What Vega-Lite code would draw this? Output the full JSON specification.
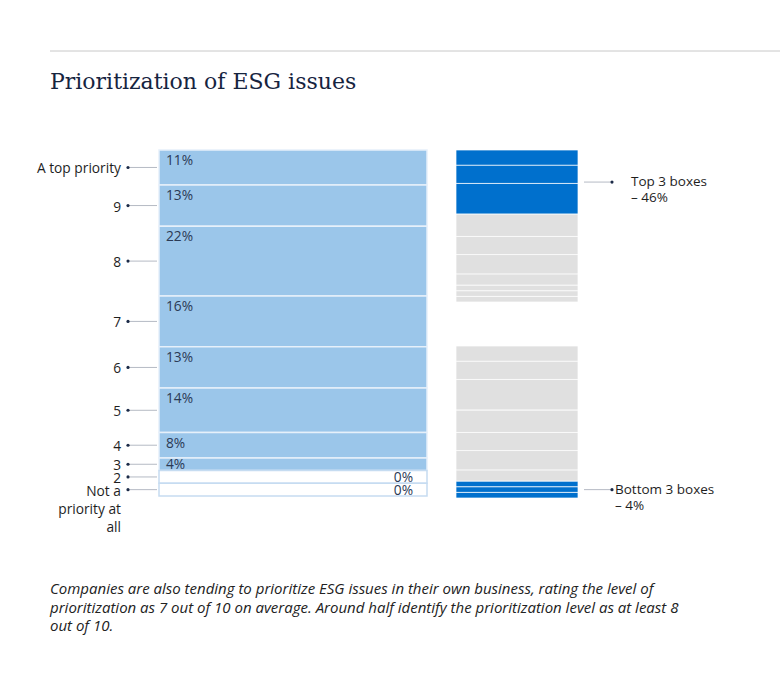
{
  "$schema": "https://vega.github.io/schema/vega-lite/v6.json",
  "padding": {"left": 26, "top": 50, "right": 0, "bottom": 0},
  "config": {"view": {"stroke": null}, "font": "Open Sans"},
  "datasets": {
    "esg": [
      {"level": "A top priority", "pct": 11, "box": "top"},
      {"level": "9", "pct": 13, "box": "top"},
      {"level": "8", "pct": 22, "box": "top"},
      {"level": "7", "pct": 16, "box": "middle"},
      {"level": "6", "pct": 13, "box": "middle"},
      {"level": "5", "pct": 14, "box": "middle"},
      {"level": "4", "pct": 8, "box": "middle"},
      {"level": "3", "pct": 4, "box": "bottom"},
      {"level": "2", "pct": 0, "box": "bottom"},
      {"level": "Not a\npriority at\nall", "pct": 0, "box": "bottom"}
    ]
  },
  "title": {
    "text": [
      "Companies are also tending to prioritize ESG issues in their own business, rating the level of",
      "prioritization as 7 out of 10 on average. Around half identify the prioritization level as at least 8",
      "out of 10."
    ],
    "orient": "bottom",
    "anchor": "start",
    "dx": 24,
    "offset": 48,
    "font": "Open Sans",
    "fontStyle": "italic",
    "fontWeight": "normal",
    "fontSize": 15,
    "lineHeight": 18.5,
    "color": "#222222"
  },
  "spacing": 19,
  "vconcat": [
    {
      "width": 754,
      "height": 1,
      "data": {"values": [{}]},
      "mark": {"type": "rule", "color": "#c8c8c8", "strokeWidth": 1, "xOffset": 24},
      "encoding": {
        "x": {"datum": 0, "type": "quantitative", "scale": {"domain": [0, 1]}, "axis": null},
        "x2": {"datum": 1},
        "y": {"datum": 0, "type": "quantitative", "scale": {"domain": [0, 1]}, "axis": null}
      }
    },
    {
      "title": {
        "text": "Prioritization of ESG issues",
        "anchor": "start",
        "dx": 24,
        "offset": 55,
        "font": "DejaVu Serif",
        "fontSize": 22,
        "fontWeight": "normal",
        "color": "#16243f"
      },
      "spacing": 27,
      "hconcat": [
        {
          "spacing": 0,
          "resolve": {"scale": {"y": "shared"}},
          "hconcat": [
            {
              "width": 131,
              "height": 346,
              "data": {"name": "esg"},
              "transform": [
                {"calculate": "max(datum.pct, 4)", "as": "units"},
                {"stack": "units", "groupby": [], "as": ["y0", "y1"]},
                {"calculate": "(datum.y0 + datum.y1) / 2", "as": "ymid"}
              ],
              "encoding": {
                "x": {"datum": 1, "type": "quantitative", "scale": {"domain": [0, 1]}, "axis": null},
                "y": {"field": "ymid", "type": "quantitative", "scale": {"zero": true, "nice": false, "reverse": true}, "axis": null}
              },
              "layer": [
                {"mark": {"type": "rule", "xOffset": -29, "color": "#b5bac4", "strokeWidth": 1}, "encoding": {"x2": {"datum": 1}}},
                {"mark": {"type": "circle", "xOffset": -29, "size": 10, "color": "#1b2a47", "opacity": 1}},
                {
                  "mark": {"type": "text", "align": "right", "baseline": "middle", "dx": -36, "dy": 2, "fontSize": 13.75, "color": "#1e1e1e", "lineBreak": "\n", "lineHeight": 18},
                  "encoding": {"text": {"field": "level"}}
                }
              ]
            },
            {
              "width": 268,
              "height": 346,
              "data": {"name": "esg"},
              "transform": [
                {"calculate": "max(datum.pct, 4)", "as": "units"},
                {"stack": "units", "groupby": [], "as": ["y0", "y1"]},
                {"calculate": "(datum.y0 + datum.y1) / 2", "as": "ymid"},
                {"calculate": "datum.pct + '%'", "as": "pctText"}
              ],
              "layer": [
                {
                  "mark": {"type": "bar", "strokeWidth": 1.5},
                  "encoding": {
                    "x": {"datum": 0, "type": "quantitative", "scale": {"domain": [0, 1]}, "axis": null},
                    "x2": {"datum": 1},
                    "y": {"field": "y0", "type": "quantitative", "scale": {"zero": true, "nice": false, "reverse": true}, "axis": null},
                    "y2": {"field": "y1"},
                    "fill": {"condition": {"test": "datum.pct > 0", "value": "#9bc6ea"}, "value": "#ffffff"},
                    "stroke": {"condition": {"test": "datum.pct > 0", "value": "#e6f0fa"}, "value": "#c6dcf1"}
                  }
                },
                {
                  "transform": [{"filter": "datum.pct >= 8"}],
                  "mark": {"type": "text", "align": "left", "baseline": "top", "dx": 7, "dy": 4, "fontSize": 13.75, "color": "#2b3a55"},
                  "encoding": {
                    "x": {"datum": 0, "type": "quantitative"},
                    "y": {"field": "y0", "type": "quantitative"},
                    "text": {"field": "pctText"}
                  }
                },
                {
                  "transform": [{"filter": "datum.pct > 0 && datum.pct < 8"}],
                  "mark": {"type": "text", "align": "left", "baseline": "middle", "dx": 7, "dy": 1, "fontSize": 13.75, "color": "#2b3a55"},
                  "encoding": {
                    "x": {"datum": 0, "type": "quantitative"},
                    "y": {"field": "ymid", "type": "quantitative"},
                    "text": {"field": "pctText"}
                  }
                },
                {
                  "transform": [{"filter": "datum.pct == 0"}],
                  "mark": {"type": "text", "align": "right", "baseline": "middle", "dx": -14, "dy": 1, "fontSize": 13.75, "color": "#2b3a55"},
                  "encoding": {
                    "x": {"datum": 1, "type": "quantitative"},
                    "y": {"field": "ymid", "type": "quantitative"},
                    "text": {"field": "pctText"}
                  }
                }
              ]
            }
          ]
        },
        {
          "spacing": 42,
          "vconcat": [
            {
              "width": 122,
              "height": 152,
              "data": {"name": "esg"},
              "transform": [
                {"calculate": "max(datum.pct, 4)", "as": "units"},
                {"stack": "units", "groupby": [], "as": ["y0", "y1"]}
              ],
              "layer": [
                {
                  "mark": {"type": "bar", "stroke": "#ffffff", "strokeWidth": 1, "strokeOpacity": 0.7},
                  "encoding": {
                    "x": {"datum": 0, "type": "quantitative", "scale": {"domain": [0, 1]}, "axis": null},
                    "x2": {"datum": 1},
                    "y": {"field": "y0", "type": "quantitative", "scale": {"zero": true, "nice": false, "reverse": true}, "axis": null},
                    "y2": {"field": "y1"},
                    "fill": {"condition": {"test": "datum.box === 'top'", "value": "#0070cd"}, "value": "#e0e0e0"}
                  }
                },
                {
                  "transform": [
                    {"filter": "datum.box === 'top'"},
                    {"aggregate": [
                      {"op": "min", "field": "y0", "as": "lo"},
                      {"op": "max", "field": "y1", "as": "hi"},
                      {"op": "sum", "field": "pct", "as": "total"}
                    ]},
                    {"calculate": "(datum.lo + datum.hi) / 2", "as": "mid"},
                    {"calculate": "['Top 3 boxes', '– ' + datum.total + '%']", "as": "note"}
                  ],
                  "encoding": {
                    "x": {"datum": 1, "type": "quantitative"},
                    "y": {"field": "mid", "type": "quantitative"}
                  },
                  "layer": [
                    {"mark": {"type": "rule", "xOffset": 6, "x2Offset": 34, "color": "#b5bac4", "strokeWidth": 1}, "encoding": {"x2": {"datum": 1}}},
                    {"mark": {"type": "circle", "xOffset": 34, "size": 10, "color": "#1b2a47", "opacity": 1}},
                    {
                      "mark": {"type": "text", "align": "left", "baseline": "middle", "dx": 53, "fontSize": 13.5, "color": "#1e1e1e", "lineHeight": 16},
                      "encoding": {"text": {"field": "note"}}
                    }
                  ]
                }
              ]
            },
            {
              "width": 122,
              "height": 152,
              "data": {"name": "esg"},
              "transform": [
                {"calculate": "max(datum.pct, 4)", "as": "units"},
                {"stack": "units", "groupby": [], "as": ["y0", "y1"]}
              ],
              "layer": [
                {
                  "mark": {"type": "bar", "stroke": "#ffffff", "strokeWidth": 1, "strokeOpacity": 0.7},
                  "encoding": {
                    "x": {"datum": 0, "type": "quantitative", "scale": {"domain": [0, 1]}, "axis": null},
                    "x2": {"datum": 1},
                    "y": {"field": "y0", "type": "quantitative", "scale": {"zero": true, "nice": false, "reverse": true}, "axis": null},
                    "y2": {"field": "y1"},
                    "fill": {"condition": {"test": "datum.box === 'bottom'", "value": "#0070cd"}, "value": "#e0e0e0"}
                  }
                },
                {
                  "transform": [
                    {"filter": "datum.box === 'bottom'"},
                    {"aggregate": [
                      {"op": "min", "field": "y0", "as": "lo"},
                      {"op": "max", "field": "y1", "as": "hi"},
                      {"op": "sum", "field": "pct", "as": "total"}
                    ]},
                    {"calculate": "(datum.lo + datum.hi) / 2", "as": "mid"},
                    {"calculate": "['Bottom 3 boxes', '– ' + datum.total + '%']", "as": "note"}
                  ],
                  "encoding": {
                    "x": {"datum": 1, "type": "quantitative"},
                    "y": {"field": "mid", "type": "quantitative"}
                  },
                  "layer": [
                    {"mark": {"type": "rule", "xOffset": 6, "x2Offset": 34, "color": "#b5bac4", "strokeWidth": 1}, "encoding": {"x2": {"datum": 1}}},
                    {"mark": {"type": "circle", "xOffset": 34, "size": 10, "color": "#1b2a47", "opacity": 1}},
                    {
                      "mark": {"type": "text", "align": "left", "baseline": "middle", "dx": 37, "fontSize": 13.5, "color": "#1e1e1e", "lineHeight": 16},
                      "encoding": {"text": {"field": "note"}}
                    }
                  ]
                }
              ]
            }
          ]
        }
      ]
    }
  ]
}
